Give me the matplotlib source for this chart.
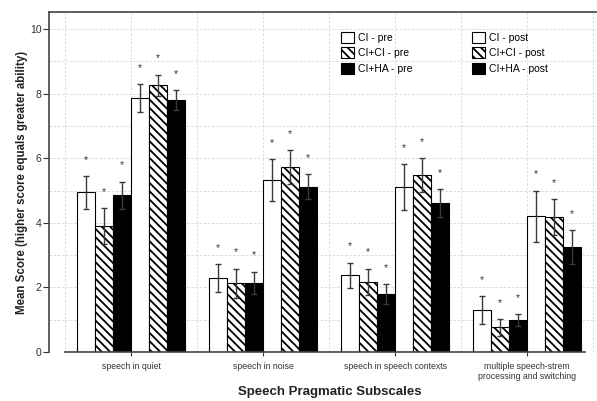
import matplotlib.pyplot as plt
import numpy as np
from matplotlib.patches import Patch

# Datos.

categorias = [ 'speech in quiet' , 'speech in noise' , 'speech in speech contexts' ,
               'multiple speech-strem\nprocessing and switching' ]

series = [ 'CI - pre' , 'CI+CI - pre' , 'CI+HA - pre' , 'CI - post' , 'CI+CI - post' , 'CI+HA - post' ]

ci_pre     = [ 4.94 , 2.30 , 2.37 , 1.30 ]
cici_pre   = [ 3.90 , 2.13 , 2.18 , 0.76 ]
ciha_pre   = [ 4.85 , 2.15 , 1.80 , 0.98 ]
ci_post    = [ 7.87 , 5.32 , 5.11 , 4.21 ]
cici_post  = [ 8.26 , 5.72 , 5.47 , 4.17 ]
ciha_post  = [ 7.81 , 5.12 , 4.61 , 3.26 ]

# Extremo superior de las barras de error.

ci_pre_err    = [ 5.45 , 2.73 , 2.77 , 1.73 ]
cici_pre_err  = [ 4.45 , 2.58 , 2.58 , 1.02 ]
ciha_pre_err  = [ 5.28 , 2.49 , 2.10 , 1.17 ]
ci_post_err   = [ 8.30 , 5.97 , 5.81 , 5.00 ]
cici_post_err = [ 8.59 , 6.25 , 6.00 , 4.73 ]
ciha_post_err = [ 8.12 , 5.50 , 5.05 , 3.78 ]

valores = [ ci_pre , cici_pre , ciha_pre , ci_post , cici_post , ciha_post ]
errores = [ ci_pre_err , cici_pre_err , ciha_pre_err , ci_post_err , cici_post_err , ciha_post_err ]

colores = [ 'white' , 'white' , 'black' , 'white' , 'white' , 'black' ]
tramas = [ None , '\\\\\\\\' , None , None , '\\\\\\\\' , None ]

plt.rcParams[ 'font.family' ] = [ 'Liberation Sans' , 'DejaVu Sans' ]
plt.rcParams[ 'hatch.linewidth' ] = 1.3

fig = plt.figure( figsize = ( 5.97 , 4.01 ) , dpi = 100 )
ax = fig.add_axes( [ 49 / 597 , 49 / 401 , 548 / 597 , 340 / 401 ] )

x = np.arange( len( categorias ) )
w = 0.1364

for i in range( 6 ) :

    pos = x + ( i - 2.5 ) * w
    v = np.array( valores[ i ] )
    e = np.array( errores[ i ] ) - v

    ax.bar( pos , v , w , color = colores[ i ] , edgecolor = 'black' ,
            hatch = tramas[ i ] , linewidth = 0.8 , zorder = 2 )

    ax.errorbar( pos , v , yerr = e , fmt = 'none' , ecolor = '#3a3a3a' ,
                 elinewidth = 1.0 , capsize = 2.2 , capthick = 1.0 , zorder = 3 )

    # Asteriscos de significancia.

    for p , t in zip( pos , errores[ i ] ) :

        ax.text( p , t + 0.5 , '*' , ha = 'center' , va = 'center' ,
                 fontsize = 7.5 , color = '#333333' , zorder = 4 )

ax.set_xlim( -0.621 , 3.53 )
ax.set_ylim( 0 , 10.53 )

ax.set_xticks( x )
ax.set_xticklabels( categorias , fontsize = 6.3 , color = '#333333' )
ax.set_xticks( np.arange( -0.5 , 3.6 , 0.5 ) , minor = True )
ax.set_yticks( np.arange( 0 , 11 , 2 ) )
ax.set_yticks( np.arange( 0 , 11 , 1 ) , minor = True )
ax.tick_params( axis = 'y' , labelsize = 7.5 , length = 4.5 , pad = 1 , colors = '#333333' )
ax.tick_params( axis = 'x' , length = 3 , pad = 4 , colors = '#333333' )
ax.tick_params( which = 'minor' , length = 0 )

ax.grid( which = 'both' , color = '#d4d4d4' , linestyle = ( 0 , ( 3 , 2 ) ) , linewidth = 0.6 , zorder = 0 )
ax.set_axisbelow( True )

ax.spines[ 'right' ].set_visible( False )
ax.spines[ 'bottom' ].set_bounds( -0.5 , 3.44 )
for s in [ 'left' , 'top' , 'bottom' ] :
    ax.spines[ s ].set_color( '#444444' )
    ax.spines[ s ].set_linewidth( 1.2 )

ax.set_ylabel( 'Mean Score (higher score equals greater ability)' , fontsize = 8.3 ,
               fontweight = 'bold' , color = '#222222' , labelpad = 1 )
ax.set_xlabel( 'Speech Pragmatic Subscales' , fontsize = 9.5 , fontweight = 'bold' ,
               color = '#222222' )
ax.xaxis.set_label_coords( 0.513 , -0.1 )

handles = [ Patch( facecolor = colores[ i ] , edgecolor = 'black' , hatch = tramas[ i ] ,
                   linewidth = 0.8 ) for i in range( 6 ) ]

ax.legend( handles , series , ncol = 2 , loc = 'upper left' , bbox_to_anchor = ( 0.5255 , 0.954 ) ,
           borderaxespad = 0 , frameon = False , fontsize = 7.5 , handlelength = 1.25 ,
           handleheight = 1.25 , handletextpad = 0.4 , labelspacing = 0.44 , columnspacing = 5.7 )

fig.savefig( 'out.png' , dpi = 100 )
